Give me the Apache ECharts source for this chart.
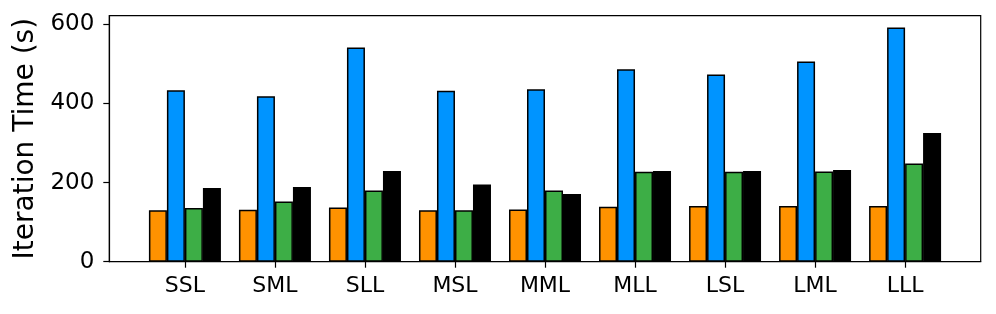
<!DOCTYPE html>
<html>
<head>
<meta charset="utf-8">
<script src="https://cdn.jsdelivr.net/npm/echarts@6/dist/echarts.min.js"></script>
<style>
html,body{margin:0;padding:0;background:#fff;}
#chart{width:996px;height:314px;}
</style>
</head>
<body>
<div id="chart"></div>
<script>
var categories = ["SSL", "SML", "SLL", "MSL", "MML", "MLL", "LSL", "LML", "LLL"];
var orangeValues = [130, 131, 137, 130, 132, 139, 141, 141, 141];
var blueValues = [433, 418, 541, 432, 436, 486, 473, 506, 592];
var greenValues = [136, 152, 180, 130, 180, 227, 227, 228, 248];
var blackValues = [186, 189, 229, 195, 171, 229, 229, 232, 325];
var yTicks = [0, 200, 400, 600];
var yAxisName = "Iteration Time (s)";

var FONT = "DejaVu Sans";
var catIdx = categories.map(function (c, i) { return i; });

function toPairs(arr) { return arr.map(function (v, i) { return [i, v]; }); }

function barSeries(name, values, color) {
  return {
    name: name,
    type: "bar",
    data: toPairs(values),
    barWidth: 18,
    barGap: "0%",
    itemStyle: { color: color, borderColor: "#000", borderWidth: 1.5 },
    emphasis: { disabled: true },
    animation: false
  };
}

var chart = echarts.init(document.getElementById("chart"), null, { renderer: "canvas" });
chart.setOption({
  animation: false,
  backgroundColor: "#fff",
  grid: {
    left: 109.3, right: 15.3, top: 15.7, bottom: 52.3,
    show: true, borderColor: "#000", borderWidth: 1.2, backgroundColor: "transparent"
  },
  xAxis: {
    type: "value",
    min: -0.84,
    max: 8.84,
    splitLine: { show: false },
    axisLine: { show: true, onZero: false, lineStyle: { color: "#000", width: 1.2 } },
    axisTick: { show: true, customValues: catIdx, length: 6, inside: false, lineStyle: { color: "#000", width: 1.2 } },
    axisLabel: {
      customValues: catIdx,
      formatter: function (v) { return categories[Math.round(v)]; },
      color: "#000", fontFamily: FONT, fontSize: 22, margin: 14
    }
  },
  yAxis: {
    type: "value",
    min: 0,
    max: 621.6,
    splitLine: { show: false },
    axisLine: { show: true, onZero: false, lineStyle: { color: "#000", width: 1.2 } },
    axisTick: { show: true, customValues: yTicks, length: 6, inside: false, lineStyle: { color: "#000", width: 1.2 } },
    axisLabel: {
      customValues: yTicks,
      color: "#000", fontFamily: FONT, fontSize: 23, margin: 15
    },
    name: yAxisName,
    nameLocation: "middle",
    nameGap: 66,
    nameTextStyle: { color: "#000", fontFamily: FONT, fontSize: 28 }
  },
  series: [
    barSeries("Orange", orangeValues, "#FF9200"),
    barSeries("Blue", blueValues, "#0094FF"),
    barSeries("Green", greenValues, "#3DAE46"),
    barSeries("Black", blackValues, "#000000")
  ]
});
</script>
</body>
</html>
